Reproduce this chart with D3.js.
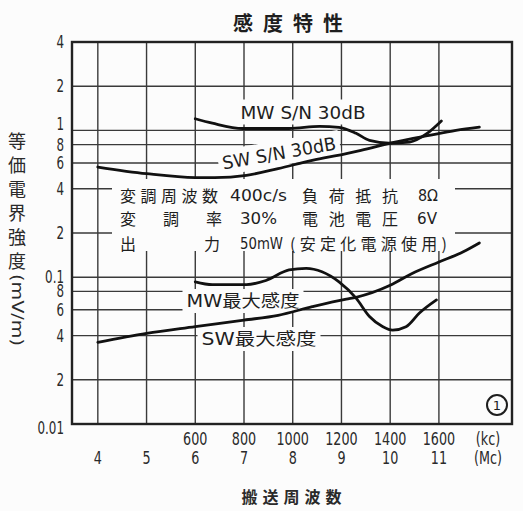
<!DOCTYPE html>
<html>
<head>
<meta charset="utf-8">
<script src="https://cdn.jsdelivr.net/npm/d3@7"></script>
<style>
  body { margin: 0; background: #fff; }
  svg { display: block; }
</style>
</head>
<body>
<div class="chart"></div>
<script>
// x axis: two scales share the grid (Mc for SW, kc for MW)
const mcTicks = [4, 5, 6, 7, 8, 9, 10, 11];
const kcTicks = [600, 800, 1000, 1200, 1400, 1600];

// y axis (log, mV/m)
const gridValues = [2, 1, 0.8, 0.6, 0.4, 0.2, 0.1, 0.08, 0.06, 0.04, 0.02];
const yTickValues = [4, 2, 1, 0.8, 0.6, 0.4, 0.2, 0.1, 0.08, 0.06, 0.04, 0.02, 0.01];
const yTickText = ['4', '2', '1', '8', '6', '4', '2', '0.1', '8', '6', '4', '2', '0.01'];

// curves: [kc, mV/m] for MW, [Mc, mV/m] for SW
const mwSN = [[600, 1.20], [670, 1.12], [795, 1.03], [985, 1.03], [1110, 1.065], [1190, 1.05],
  [1260, 0.955], [1315, 0.855], [1395, 0.82], [1480, 0.833], [1550, 0.95], [1610, 1.16]];
const swSN = [[4, 0.563], [5, 0.507], [6, 0.477], [6.4, 0.477], [7.05, 0.494], [7.7, 0.549],
  [8.4, 0.625], [9.1, 0.694], [9.4, 0.731], [10.1, 0.833], [10.8, 0.925], [11.35, 1.0], [11.83, 1.053]];
const mwMax = [[600, 0.093], [670, 0.089], [810, 0.089], [890, 0.095], [985, 0.112], [1055, 0.115],
  [1120, 0.109], [1190, 0.093], [1260, 0.072], [1315, 0.054], [1370, 0.046], [1410, 0.0436],
  [1465, 0.046], [1520, 0.057], [1590, 0.070]];
const swMax = [[4, 0.036], [5, 0.0414], [6, 0.046], [7, 0.051], [7.7, 0.055], [8.4, 0.063],
  [9.1, 0.071], [9.3, 0.073], [10, 0.088], [10.45, 0.106], [11, 0.127], [11.5, 0.149], [11.83, 0.171]];

const noteRows = [
  ['変調周波数', '400c/s', '負荷抵抗', '8Ω'],
  ['変調率', '30%', '電池電圧', '6V'],
  ['出力', '50mW', '(安定化電源使用)']
];

const width = 523;
const height = 511;
const pLeft = 72, pRight = 512, pTop = 42, pBottom = 424;

const sans = '"DejaVu Sans", "Noto Sans CJK JP", sans-serif';
const cjk = '"Noto Sans CJK JP", sans-serif';
const ink = '#1e1e1e';

const x = d3.scaleLinear().domain([3.47, 12.5]).range([pLeft, pRight]);
const xKc = d3.scaleLinear().domain([3.47 * 200 - 600, 12.5 * 200 - 600]).range([pLeft, pRight]);
const y = d3.scaleLog().domain([0.01, 4]).range([pBottom, pTop]);

const svg = d3.select('.chart').append('svg')
    .attr('width', width)
    .attr('height', height);

svg.append('rect').attr('width', width).attr('height', height).attr('fill', '#fcfcfc');

// title
svg.append('text')
    .attr('x', 293).attr('y', 22)
    .attr('text-anchor', 'middle').attr('dominant-baseline', 'central')
    .style('font-family', cjk).style('font-weight', 'bold')
    .style('font-size', '20px').style('letter-spacing', '10px')
    .attr('fill', ink)
    .text('感度特性');

const g = svg.append('g');

// grid
g.selectAll('.hgrid').data(gridValues).join('line')
    .attr('x1', pLeft).attr('x2', pRight)
    .attr('y1', d => y(d)).attr('y2', d => y(d))
    .attr('stroke', '#3a3a3a').attr('stroke-width', 1.4);

g.selectAll('.vgrid').data(mcTicks).join('line')
    .attr('x1', d => x(d)).attr('x2', d => x(d))
    .attr('y1', pTop).attr('y2', pBottom)
    .attr('stroke', '#3a3a3a').attr('stroke-width', 1.4);

// label with a white patch that breaks the grid
function label(text, cx, cy, size, len, angle) {
  const lg = g.append('g').attr('transform', `translate(${cx},${cy}) rotate(${angle || 0})`);
  const bg = lg.append('rect').attr('fill', '#fcfcfc');
  const t = lg.append('text')
      .attr('text-anchor', 'middle').attr('dominant-baseline', 'central')
      .style('font-family', sans).style('font-size', size + 'px')
      .attr('fill', ink)
      .attr('textLength', len).attr('lengthAdjust', 'spacingAndGlyphs')
      .text(text);
  const b = t.node().getBBox();
  bg.attr('x', b.x - 4).attr('y', b.y - 2).attr('width', b.width + 8).attr('height', b.height + 4);
}

label('MW S/N 30dB', 303, 112, 18, 125, 0);
label('SW S/N 30dB', 279, 153, 18, 115, -10);
label('MW最大感度', 243, 301, 17, 113, 0);
label('SW最大感度', 259, 339, 17, 115, 0);

// note block
g.append('rect')
    .attr('x', 112).attr('y', 179).attr('width', 343).attr('height', 72)
    .attr('fill', '#fcfcfc');

const colX = [[120, 230, 302, 418], [120, 240, 302, 417], [120, 240, 290]];
const colW = [[98, 57, 96, 20], [102, 37, 96, 20], [100, 43, 157]];
const rowY = [195, 218, 243];
const isCjk = s => /[\u3000-\u9fff]/.test(s);
noteRows.forEach((row, i) => {
  row.forEach((txt, j) => {
    const cj = isCjk(txt);
    g.append('text')
        .attr('x', colX[i][j]).attr('y', rowY[i])
        .attr('dominant-baseline', 'central')
        .style('font-family', cj ? cjk : sans).style('font-size', '16px')
        .attr('fill', ink)
        .attr('textLength', colW[i][j]).attr('lengthAdjust', cj ? 'spacing' : 'spacingAndGlyphs')
        .text(txt);
  });
});

// curves
const lineMc = d3.line().x(d => x(d[0])).y(d => y(d[1])).curve(d3.curveMonotoneX);
const lineKc = d3.line().x(d => xKc(d[0])).y(d => y(d[1])).curve(d3.curveMonotoneX);

[[mwSN, lineKc], [swSN, lineMc], [mwMax, lineKc], [swMax, lineMc]].forEach(([data, fn]) => {
  g.append('path')
      .datum(data)
      .attr('d', fn)
      .attr('fill', 'none')
      .attr('stroke', '#111')
      .attr('stroke-width', 2.8)
      .attr('stroke-linecap', 'round');
});

// frame
g.append('rect')
    .attr('x', pLeft).attr('y', pTop)
    .attr('width', pRight - pLeft).attr('height', pBottom - pTop)
    .attr('fill', 'none').attr('stroke', '#222').attr('stroke-width', 2.4);

// circled 1
g.append('circle').attr('cx', 497).attr('cy', 405).attr('r', 10)
    .attr('fill', 'none').attr('stroke', ink).attr('stroke-width', 2);
g.append('text').attr('x', 497).attr('y', 405)
    .attr('text-anchor', 'middle').attr('dominant-baseline', 'central')
    .style('font-family', sans).style('font-size', '13px').attr('fill', ink)
    .text('1');

// y tick labels, horizontally squeezed like the narrow print face
svg.selectAll('.ylab').data(yTickValues).join('g')
    .attr('transform', d => `translate(64,${y(d) + (d === 1 ? -6 : d === 0.01 ? 4 : 0)}) scale(0.66,1)`)
  .append('text')
    .attr('text-anchor', 'end').attr('dominant-baseline', 'central')
    .style('font-family', sans).style('font-size', '18px')
    .attr('fill', '#2a2a2a')
    .text((d, i) => yTickText[i]);

// x tick labels
const xLab = (text, cx, cy) => {
  svg.append('g').attr('transform', `translate(${cx},${cy}) scale(0.75,1)`)
    .append('text')
      .attr('text-anchor', 'middle').attr('dominant-baseline', 'central')
      .style('font-family', sans).style('font-size', '17px')
      .attr('fill', '#2a2a2a')
      .text(text);
};
kcTicks.forEach(d => xLab(d, xKc(d), 439));
mcTicks.forEach(d => xLab(d, x(d), 458));
xLab('(kc)', 488, 439);
xLab('(Mc)', 488, 458);

// x axis title
svg.append('text')
    .attr('x', 294).attr('y', 496)
    .attr('text-anchor', 'middle').attr('dominant-baseline', 'central')
    .style('font-family', cjk).style('font-weight', 'bold')
    .style('font-size', '16px').style('letter-spacing', '5px')
    .attr('fill', '#2a2a2a')
    .text('搬送周波数');

// y axis title (vertical)
const yTitle = '等価電界強度';
svg.selectAll('.ychar').data(Array.from(yTitle)).join('text')
    .attr('x', 17).attr('y', (d, i) => 140 + i * 24)
    .attr('text-anchor', 'middle').attr('dominant-baseline', 'central')
    .style('font-family', cjk).style('font-size', '18px').attr('fill', '#2a2a2a')
    .text(d => d);
svg.append('text')
    .attr('transform', 'translate(17,310) rotate(90)')
    .attr('text-anchor', 'middle').attr('dominant-baseline', 'central')
    .style('font-family', sans).style('font-size', '16px').attr('fill', '#2a2a2a')
    .attr('textLength', 72).attr('lengthAdjust', 'spacingAndGlyphs')
    .text('(mV/m)');
</script>
</body>
</html>
